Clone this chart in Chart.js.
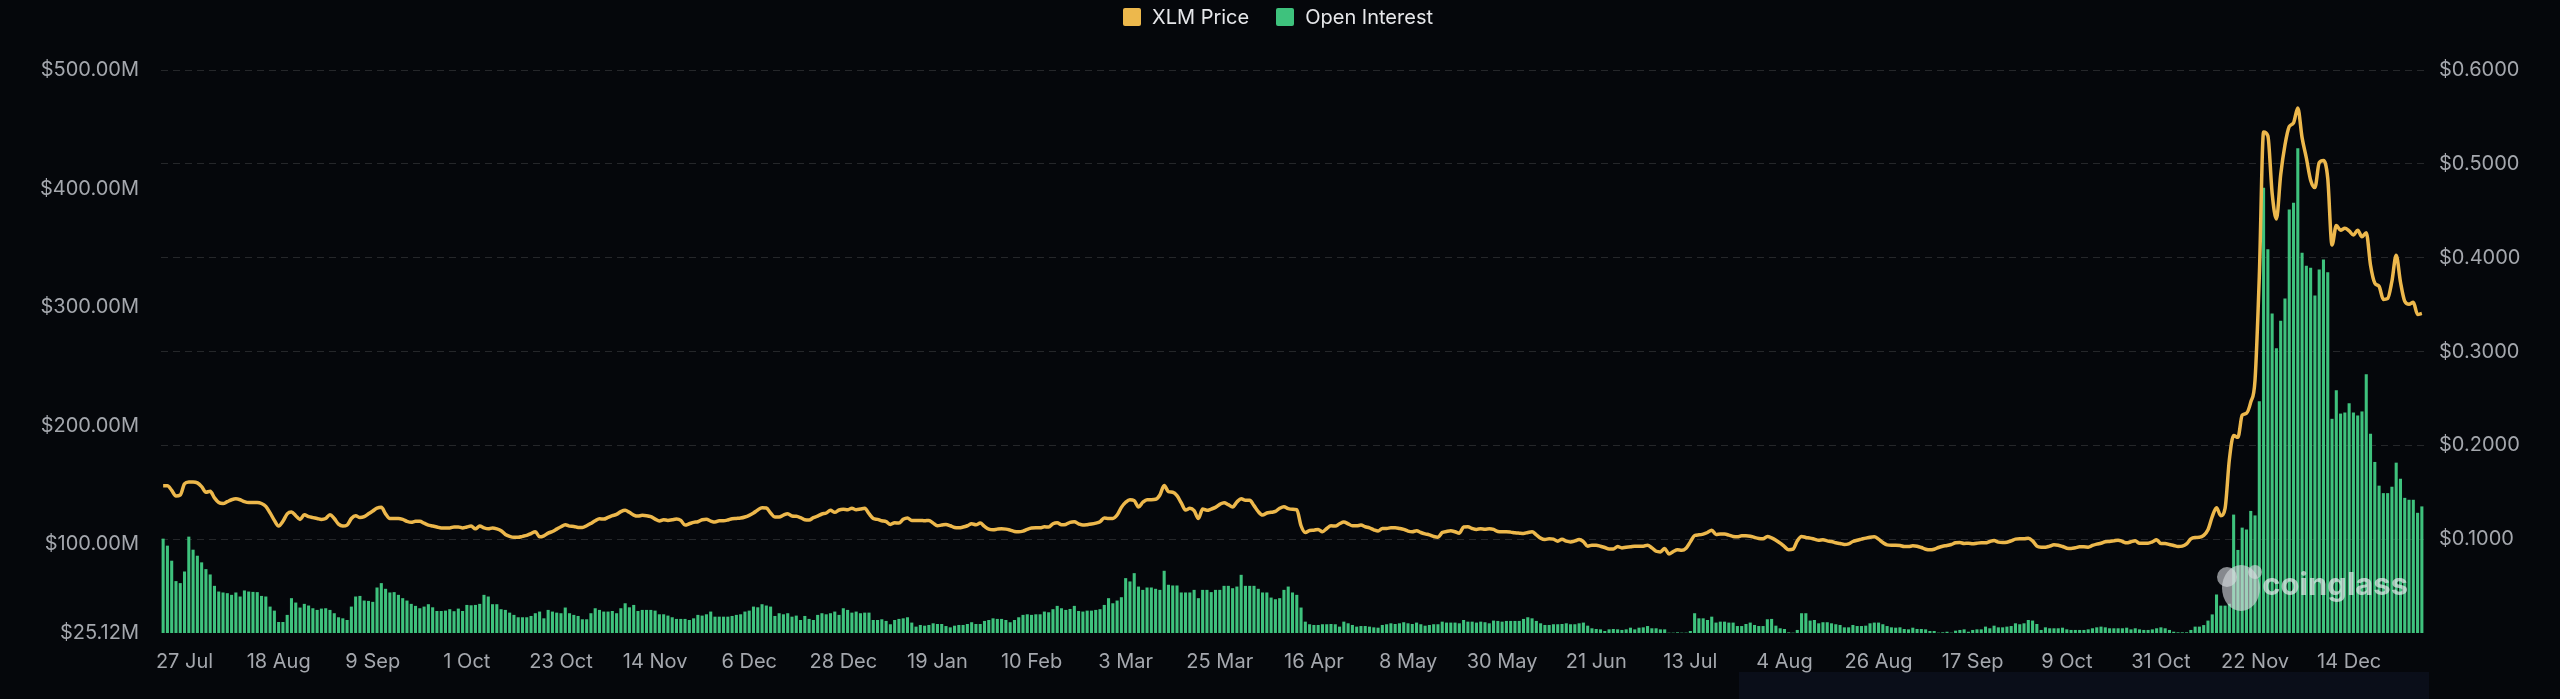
<!DOCTYPE html>
<html>
<head>
<meta charset="utf-8">
<title>XLM Price vs Open Interest</title>
<script src="https://cdn.jsdelivr.net/npm/chart.js@4.4.1/dist/chart.umd.min.js"></script>
<style>
  html, body { margin: 0; padding: 0; background: #05070b; }
  #wrap { position: relative; width: 2560px; height: 699px; overflow: hidden; }
  #chart { position: absolute; left: 0; top: 0; }
  #strip { position: absolute; left: 1739px; top: 672px; width: 690px; height: 27px; background: #0a0e19; }
  #legend {
    position: absolute; left: 0; top: 5px; width: 2556px;
    display: flex; justify-content: center; gap: 27px;
    font: 20px Inter, sans-serif; color: #e6e7ea;
  }
  #legend .item { display: flex; align-items: center; gap: 11px; line-height: 24px; }
  #legend .box { width: 18px; height: 18px; border-radius: 2px; }
</style>
</head>
<body>
<div id="wrap">
  <div id="strip"></div>
  <canvas id="chart" width="2560" height="699"></canvas>
  <div id="legend"></div>
</div>
<script>
// first day shown and the x tick rhythm (one label every 22 days)
const startDay = [2023, 6, 22];
const firstTickIndex = 5;
const tickStep = 22;

// left axis ($M) and right axis ($) ticks
const oiTicks = [25.12, 100, 200, 300, 400, 500];
const priceTicks = [0, 0.1, 0.2, 0.3, 0.4, 0.5, 0.6];

// XLM price, one value per day
const xlmPrice = [
  0.157, 0.157, 0.152, 0.146, 0.147, 0.159, 0.161, 0.161, 0.160, 0.156,
  0.150, 0.151, 0.144, 0.139, 0.138, 0.140, 0.142, 0.143, 0.142, 0.140,
  0.139, 0.139, 0.139, 0.138, 0.135, 0.128, 0.120, 0.114, 0.119, 0.127,
  0.129, 0.125, 0.121, 0.126, 0.124, 0.123, 0.122, 0.121, 0.122, 0.126,
  0.122, 0.116, 0.114, 0.115, 0.122, 0.125, 0.123, 0.124, 0.127, 0.130,
  0.133, 0.134, 0.127, 0.122, 0.122, 0.122, 0.121, 0.119, 0.118, 0.119,
  0.119, 0.117, 0.115, 0.114, 0.113, 0.112, 0.112, 0.112, 0.113, 0.113,
  0.112, 0.113, 0.114, 0.111, 0.114, 0.112, 0.111, 0.112, 0.111, 0.109,
  0.105, 0.103, 0.102, 0.102, 0.103, 0.104, 0.106, 0.108,
  0.1025, 0.1036, 0.1064, 0.1082, 0.1107, 0.1132, 0.1154, 0.1139, 0.1136, 0.1125,
  0.1125, 0.1143, 0.1168, 0.1196, 0.1218, 0.1214, 0.1232, 0.125, 0.1264, 0.1293,
  0.1307, 0.1286, 0.1257, 0.1246, 0.1254, 0.125, 0.1239, 0.1214, 0.1193, 0.1207,
  0.12, 0.1207, 0.1214, 0.12, 0.115, 0.1164, 0.1179, 0.1186, 0.1207, 0.1211,
  0.1193, 0.1182, 0.1196, 0.1196, 0.1204, 0.1218, 0.1221, 0.1225, 0.1236, 0.1254,
  0.1279, 0.1311, 0.1336, 0.1332, 0.1279, 0.1236, 0.1236, 0.1257, 0.1271, 0.1246,
  0.1243, 0.1229, 0.1207, 0.1204, 0.1229, 0.1246, 0.1268, 0.1279, 0.1307, 0.1286,
  0.1311, 0.1318, 0.1314, 0.1329, 0.1314, 0.1321, 0.1329, 0.1271, 0.1221, 0.1211,
  0.1196, 0.1186, 0.1157, 0.1175, 0.1171, 0.1211, 0.1225,
  0.12, 0.12, 0.12, 0.1196, 0.12, 0.1171, 0.1143, 0.115, 0.1157, 0.1143,
  0.1125, 0.1121, 0.1129, 0.1143, 0.1164, 0.1154, 0.1171, 0.1136, 0.1107, 0.11,
  0.1107, 0.1111, 0.1107, 0.1096, 0.1082, 0.1079, 0.1086, 0.1104, 0.1118, 0.1121,
  0.1121, 0.1132, 0.1129, 0.1164, 0.1175, 0.1154, 0.1157, 0.1179, 0.1186, 0.1164,
  0.115, 0.1154, 0.1161, 0.1171, 0.1186, 0.1225, 0.1221, 0.1221, 0.1257, 0.1339,
  0.1393, 0.1421, 0.1411, 0.1343, 0.1393, 0.1421, 0.1421, 0.1425, 0.1471, 0.1571,
  0.1507, 0.15, 0.1464, 0.1386, 0.1311, 0.1329, 0.1304, 0.1221, 0.1321, 0.1307,
  0.1321, 0.1339, 0.1371, 0.1389, 0.1368, 0.1343, 0.1396, 0.1432, 0.1414, 0.1414,
  0.1357, 0.1293, 0.1257, 0.1279, 0.1286, 0.1296, 0.1329,
  0.1346, 0.1325, 0.1318, 0.1314, 0.1143, 0.1071, 0.1093, 0.1096, 0.1104, 0.1079,
  0.1114, 0.1143, 0.1139, 0.1164, 0.1182, 0.1164, 0.1143, 0.1143, 0.115, 0.1132,
  0.1121, 0.11, 0.1086, 0.1114, 0.1114, 0.1121, 0.1121, 0.1114, 0.1104, 0.1086,
  0.1079, 0.1089, 0.1071, 0.1057, 0.1046, 0.1029, 0.1021, 0.1071, 0.1082, 0.1089,
  0.1079, 0.1064, 0.1129, 0.1132, 0.1114, 0.1104, 0.1111, 0.1107, 0.1111, 0.1104,
  0.1082, 0.1079, 0.1079, 0.1075, 0.1068, 0.1064, 0.1061, 0.1071, 0.1079, 0.1046,
  0.1011, 0.0996, 0.1004, 0.1, 0.0979, 0.1, 0.0979, 0.0971, 0.0982, 0.0996,
  0.0975, 0.0925, 0.0936, 0.0936, 0.0925, 0.0911, 0.0896, 0.0896, 0.0921, 0.0907,
  0.0914, 0.0918, 0.0925, 0.0925, 0.0925, 0.0936, 0.0907, 0.0871, 0.0864,
  0.09, 0.0843, 0.0868, 0.0886, 0.0882, 0.0904, 0.0971, 0.1039, 0.1046, 0.1054,
  0.1071, 0.1096, 0.105, 0.1054, 0.1054, 0.1043, 0.1029, 0.1025, 0.1036, 0.1036,
  0.1032, 0.1018, 0.1007, 0.1004, 0.1029, 0.1014, 0.0989, 0.0957, 0.0921, 0.0886,
  0.0893, 0.0982, 0.1029, 0.1018, 0.1011, 0.1, 0.0989, 0.0993, 0.0982, 0.0975,
  0.0961, 0.0954, 0.0943, 0.095, 0.0975, 0.0989, 0.1, 0.1011, 0.1021, 0.1025,
  0.1, 0.0964, 0.0939, 0.0936, 0.0936, 0.0932, 0.0921, 0.0921, 0.0929, 0.0925,
  0.0911, 0.0893, 0.0886, 0.0893, 0.0911, 0.0925, 0.0932, 0.0943, 0.0961, 0.0964,
  0.0954, 0.0957, 0.095, 0.0957, 0.0961, 0.0961, 0.0975, 0.0986, 0.0968, 0.0964,
  0.0968, 0.0982, 0.1, 0.1004, 0.1004, 0.1011, 0.0982,
  0.0926, 0.0915, 0.0915, 0.0926, 0.094, 0.0936, 0.0922, 0.0904, 0.0901, 0.0908,
  0.0918, 0.0918, 0.0915, 0.0933, 0.0947, 0.0957, 0.0972, 0.0975, 0.0982, 0.0989,
  0.0975, 0.0961, 0.0972, 0.0982, 0.0957, 0.0957, 0.0957, 0.0972, 0.0993, 0.0954,
  0.0954, 0.0943, 0.0933, 0.0922, 0.0926, 0.095, 0.1004, 0.1018, 0.102, 0.104,
  0.110, 0.124,
  0.1335, 0.125, 0.1328, 0.1848, 0.2105, 0.2085, 0.2321, 0.2341, 0.246, 0.2696,
  0.38, 0.5338, 0.5299, 0.4687, 0.4411, 0.4884, 0.52, 0.5397, 0.5436, 0.5594,
  0.5279, 0.5062, 0.4826, 0.4747, 0.5011, 0.5035, 0.4845, 0.4135, 0.4344, 0.4293,
  0.4313, 0.4285, 0.4242, 0.4293, 0.4222, 0.4265, 0.3919, 0.3729, 0.3694, 0.3555,
  0.3564, 0.3749, 0.4025, 0.3741, 0.3536, 0.3504, 0.3524, 0.3394, 0.3406
];

// open interest in $M, one value per day
const openInterest = [
  104.7, 98.8, 86.1, 68.9, 67.2, 77.0, 106.4, 95.4, 90.3, 84.7,
  79.0, 74.5, 64.9, 60.1, 59.3, 58.7, 57.3, 59.3, 55.9, 61.0,
  60.1, 59.8, 59.6, 56.4, 55.9, 47.4, 44.0, 34.4, 34.4, 40.4,
  54.5, 50.8, 46.6, 49.7, 48.3, 46.0, 44.6, 45.7, 46.0, 44.6,
  41.8, 38.4, 37.5, 36.1, 47.4, 55.9, 56.4, 52.5, 52.2, 51.4,
  63.5, 67.2, 62.4, 59.3, 59.6, 57.3, 54.5, 52.5, 49.7, 48.0,
  46.0, 47.4, 49.4, 46.8, 43.7, 43.7, 44.0, 45.2, 43.5, 45.7,
  43.7, 48.8, 48.5, 48.8, 49.7, 57.3, 55.9, 49.4, 49.4, 45.2,
  44.6, 42.3, 40.4, 38.4, 38.4, 38.4, 39.5, 41.8,
  43.2, 37.5, 44.6, 43.2, 42.3, 41.8, 46.6, 41.8, 40.4, 39.5,
  36.7, 36.7, 41.8, 46.0, 44.6, 43.2, 43.2, 43.7, 41.8, 46.0,
  50.2, 46.8, 48.8, 43.7, 44.6, 44.6, 44.6, 44.0, 40.9, 40.9,
  39.8, 38.4, 37.0, 37.0, 37.0, 36.1, 37.5, 40.4, 39.8, 40.9,
  43.2, 38.9, 38.9, 38.9, 38.9, 39.5, 40.4, 40.9, 43.2, 44.0,
  47.4, 46.8, 49.4, 48.3, 47.4, 39.5, 41.8, 40.9, 41.8, 38.9,
  39.8, 36.1, 39.5, 37.0, 36.1, 40.4, 41.8, 40.9, 41.8, 43.2,
  40.4, 46.0, 44.6, 42.3, 43.2, 41.8, 42.3, 42.3, 36.1, 36.1,
  36.7, 35.3, 32.5, 36.1, 37.0, 37.5, 38.4,
  33.9, 30.5, 31.9, 31.3, 31.9, 33.3, 32.7, 32.7, 31.0, 29.9,
  31.3, 31.9, 31.9, 32.7, 34.2, 32.7, 32.7, 35.3, 36.1, 37.5,
  37.0, 37.0, 36.1, 34.2, 36.1, 38.4, 40.4, 40.9, 40.4, 40.9,
  40.9, 43.2, 42.6, 45.2, 48.0, 46.0, 44.6, 45.4, 48.0, 43.7,
  43.2, 44.0, 44.0, 44.6, 45.2, 48.8, 54.5, 50.2, 52.5, 55.3,
  71.4, 68.6, 75.6, 64.3, 61.5, 63.5, 63.5, 62.4, 61.5, 77.6,
  65.8, 65.2, 65.2, 59.3, 59.3, 59.3, 61.5, 54.5, 61.5, 61.5,
  59.6, 61.5, 61.5, 64.9, 64.9, 62.9, 64.3, 74.2, 64.9, 64.9,
  64.9, 62.4, 59.3, 59.3, 55.0, 53.6, 54.5,
  61.5, 64.3, 59.3, 57.3, 46.6, 34.7, 32.5, 31.9, 31.9, 32.5,
  32.5, 32.7, 32.5, 30.5, 34.7, 33.3, 31.9, 30.5, 31.0, 31.0,
  30.5, 29.9, 29.6, 31.9, 32.5, 33.3, 32.7, 33.3, 34.2, 33.3,
  32.7, 33.9, 32.5, 31.3, 31.9, 32.5, 32.5, 34.7, 33.9, 33.9,
  33.9, 33.3, 36.1, 34.7, 34.7, 33.9, 34.7, 34.2, 33.3, 35.6,
  35.3, 34.7, 35.3, 35.3, 35.3, 35.3, 37.0, 38.4, 37.5, 35.3,
  33.3, 31.9, 31.9, 32.5, 32.5, 32.7, 33.3, 32.5, 32.5, 33.3,
  33.9, 31.3, 29.1, 28.5, 28.2, 26.8, 28.2, 28.5, 28.2, 27.7,
  28.2, 29.6, 28.2, 29.6, 29.9, 31.0, 29.1, 29.1, 28.2,
  28.2, 25.4, 25.4, 25.7, 25.4, 25.4, 26.8, 41.8, 37.5, 37.5,
  36.1, 38.9, 33.9, 34.7, 34.7, 33.9, 33.9, 31.0, 31.0, 32.7,
  33.9, 31.9, 31.0, 31.0, 36.7, 37.0, 31.3, 29.1, 28.5, 25.7,
  25.4, 27.7, 41.8, 41.8, 35.6, 36.1, 33.3, 34.2, 34.2, 33.3,
  32.5, 31.9, 29.9, 29.9, 31.9, 31.0, 31.0, 31.3, 33.3, 33.9,
  33.9, 32.5, 31.0, 29.9, 29.6, 29.9, 28.5, 28.2, 29.6, 28.5,
  28.5, 28.2, 26.8, 26.8, 25.4, 25.7, 26.2, 25.4, 27.1, 27.7,
  28.2, 26.2, 27.7, 28.2, 28.2, 30.5, 29.1, 31.3, 29.9, 29.9,
  30.5, 31.0, 33.3, 32.5, 33.3, 36.1, 35.6,
  32.7, 27.7, 29.9, 29.1, 29.1, 29.1, 29.6, 28.2, 27.7, 27.7,
  27.7, 27.7, 28.2, 29.1, 29.9, 30.5, 29.9, 29.1, 29.1, 29.1,
  29.1, 29.6, 28.2, 29.1, 28.2, 27.7, 27.7, 28.2, 29.1, 29.9,
  29.1, 27.7, 26.2, 25.7, 25.7, 25.7, 27.7, 30.5, 30.5, 31.8,
  35.6, 40.8,
  57.6, 48.2, 48.2, 49.8, 125.0, 95.2, 114.0, 112.5, 128.1, 124.3,
  220.5, 400.6, 348.9, 294.7, 265.3, 288.5, 307.3, 382.4, 388.0, 434.1,
  345.8, 334.8, 333.3, 309.7, 331.7, 340.1, 329.4, 205.8, 229.9, 210.2,
  211.1, 218.9, 211.1, 208.6, 212.0, 243.3, 193.2, 169.4, 149.4, 143.1,
  143.1, 148.5, 168.8, 155.3, 139.1, 137.5, 137.5, 126.5, 131.9
];

// daily category labels
const months = ["Jan", "Feb", "Mar", "Apr", "May", "Jun", "Jul", "Aug", "Sep", "Oct", "Nov", "Dec"];
const days = [];
for (let i = 0; i < openInterest.length; i++) {
  const d = new Date(Date.UTC(startDay[0], startDay[1], startDay[2] + i));
  days.push(d.getUTCDate() + " " + months[d.getUTCMonth()]);
}

Chart.defaults.font.family = "Inter, 'Noto Sans', sans-serif";
Chart.defaults.font.size = 20;
Chart.defaults.color = "#a4a7ad";

// coinglass watermark over the bars
const watermark = {
  id: "watermark",
  afterDatasetsDraw(chart) {
    const { ctx, chartArea } = chart;
    const cx = chartArea.right - 183;
    const cy = chartArea.bottom - 47;
    ctx.save();
    ctx.fillStyle = "rgba(215,218,222,0.62)";
    ctx.beginPath();
    ctx.ellipse(cx, cy + 2, 19, 23, 0, 0, Math.PI * 2);
    ctx.fill();
    ctx.beginPath();
    ctx.arc(cx - 14, cy - 9, 10, 0, Math.PI * 2);
    ctx.arc(cx + 14, cy - 14, 7, 0, Math.PI * 2);
    ctx.fill();
    ctx.font = "bold 31px Inter, sans-serif";
    ctx.textAlign = "right";
    ctx.textBaseline = "middle";
    ctx.fillStyle = "rgba(235,238,240,0.68)";
    ctx.fillText("coinglass", chartArea.right - 16, cy);
    ctx.restore();
  }
};

const chart = new Chart(document.getElementById("chart"), {
  data: {
    labels: days,
    datasets: [
      {
        type: "line",
        label: "XLM Price",
        data: xlmPrice,
        yAxisID: "yPrice",
        borderColor: "#edb84c",
        backgroundColor: "#edb84c",
        borderWidth: 3.5,
        pointRadius: 0,
        cubicInterpolationMode: "monotone",
        order: 0
      },
      {
        type: "bar",
        label: "Open Interest",
        data: openInterest,
        yAxisID: "yOI",
        backgroundColor: "#3ec27d",
        borderWidth: 0,
        barPercentage: 0.72,
        categoryPercentage: 1,
        order: 1
      }
    ]
  },
  options: {
    responsive: false,
    animation: false,
    devicePixelRatio: 1,
    layout: { padding: { top: 70, left: 0, right: 0, bottom: 0 } },
    plugins: {
      legend: { display: false },
      tooltip: { enabled: false }
    },
    scales: {
      x: {
        grid: { display: false },
        border: { display: false },
        ticks: { autoSkip: false, maxRotation: 0, padding: 9 },
        afterBuildTicks: s => {
          s.ticks = s.ticks.filter(t => t.value >= firstTickIndex && (t.value - firstTickIndex) % tickStep === 0);
        },
        afterFit: s => { s.height = 66; }
      },
      yOI: {
        position: "left",
        min: oiTicks[0],
        max: oiTicks[oiTicks.length - 1],
        grid: { display: false, drawTicks: false },
        border: { display: false },
        ticks: { padding: 22, callback: v => "$" + Number(v).toFixed(2) + "M" },
        afterBuildTicks: s => { s.ticks = oiTicks.map(v => ({ value: v })); },
        afterFit: s => { s.width = 161; }
      },
      yPrice: {
        position: "right",
        min: priceTicks[0],
        max: priceTicks[priceTicks.length - 1],
        grid: {
          drawTicks: false,
          color: c => c.tick && c.tick.value === 0 ? "rgba(0,0,0,0)" : "rgba(255,255,255,0.13)"
        },
        border: { display: false, dash: [7, 5] },
        ticks: { padding: 15, callback: v => v === 0 ? "" : "$" + Number(v).toFixed(4) },
        afterBuildTicks: s => { s.ticks = priceTicks.map(v => ({ value: v })); },
        afterFit: s => { s.width = 136; }
      }
    }
  },
  plugins: [watermark]
});

// legend as plain html above the canvas
const legendEl = document.getElementById("legend");
chart.data.datasets.forEach(ds => {
  const item = document.createElement("div");
  item.className = "item";
  item.innerHTML = `<span class="box" style="background:${ds.backgroundColor}"></span><span>${ds.label}</span>`;
  legendEl.appendChild(item);
});
</script>
</body>
</html>
